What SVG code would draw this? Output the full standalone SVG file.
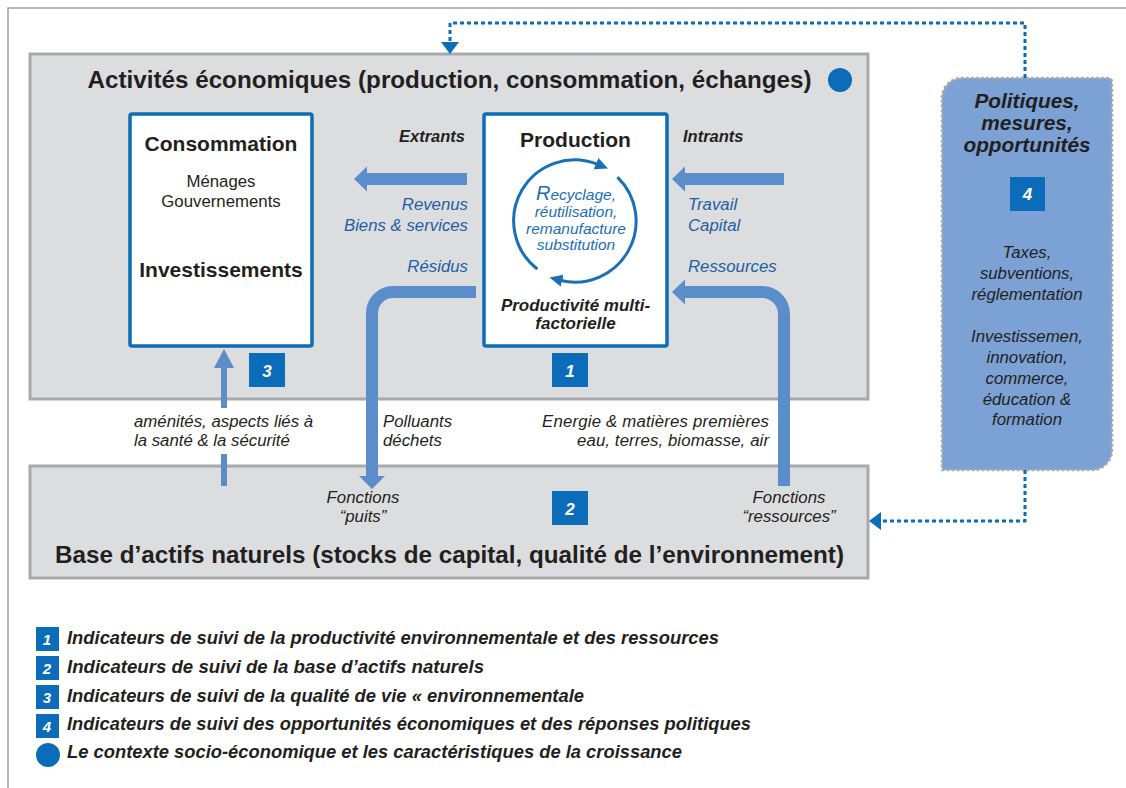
<svg xmlns="http://www.w3.org/2000/svg" width="1126" height="788" viewBox="0 0 1126 788">
<defs>
<style>
text{font-family:"Liberation Sans",Arial,Helvetica,sans-serif;fill:#231f20}
.b{font-weight:bold}
.i{font-style:italic}
.c{text-anchor:middle}
.e{text-anchor:end}
.lbl{font-size:16.8px;font-style:italic}
.bl{fill:#1f5fa3}
.cy{font-size:15.5px;font-style:italic;fill:#1a6fb8}
.num{font-size:17px;font-weight:bold;font-style:italic;fill:#fff;text-anchor:middle}
.lnum{font-size:15px;font-weight:bold;font-style:italic;fill:#fff;text-anchor:middle}
.leg{font-size:17.5px;font-weight:bold;font-style:italic}
.sq{fill:#0b6db9}
.zone{fill:#dcdddf;stroke:#a7a9ac;stroke-width:3}
.box{fill:#fff;stroke:#0b6db9;stroke-width:3.5}
.fat{fill:#5b8dca}
.fatline{fill:none;stroke:#5b8dca;stroke-width:12}
.dot{fill:none;stroke:#0b6db9;stroke-width:3;stroke-dasharray:4 3}
.cyc{fill:none;stroke:#1a6fb8;stroke-width:3}
</style>
<marker id="ah" markerUnits="userSpaceOnUse" markerWidth="14" markerHeight="14" viewBox="0 0 14 14" refX="2" refY="7" orient="auto"><path d="M0 1 L13 7 L0 13 Z" fill="#1a6fb8"/></marker>
</defs>
<rect width="1126" height="788" fill="#fff"/>
<path d="M8 788 V8 H1126" fill="none" stroke="#a0a0a0" stroke-width="1.5"/>

<g id="activites">
<rect class="zone" x="30" y="54" width="838" height="345"/>
<text class="b c" x="449.5" y="88" font-size="24" textLength="724" lengthAdjust="spacingAndGlyphs">Activités économiques (production, consommation, échanges)</text>
<circle cx="840" cy="80" r="12" fill="#0b6db9"/>
</g>

<g id="base">
<rect class="zone" x="30" y="466" width="838" height="112"/>
<text class="b c" x="449.5" y="563" font-size="24" textLength="789" lengthAdjust="spacingAndGlyphs">Base d’actifs naturels (stocks de capital, qualité de l’environnement)</text>
<text class="lbl c" x="363" y="503">Fonctions</text>
<text class="lbl c" x="363" y="522">“puits”</text>
<text class="lbl c" x="789" y="503">Fonctions</text>
<text class="lbl c" x="789" y="522">“ressources”</text>
</g>

<g id="consommation">
<rect class="box" x="130" y="114" width="182" height="232" rx="2"/>
<text class="b c" x="221" y="151" font-size="21">Consommation</text>
<text class="c" x="221" y="187" font-size="16.8">Ménages</text>
<text class="c" x="221" y="207" font-size="16.8">Gouvernements</text>
<text class="b c" x="221" y="277" font-size="21">Investissements</text>
</g>

<g id="production">
<rect class="box" x="484" y="114" width="183" height="232" rx="2"/>
<text class="b c" x="575.5" y="147" font-size="21">Production</text>
<path class="cyc" d="M537.4 269.1 A61 61 0 0 1 597.9 164.4" marker-end="url(#ah)"/>
<path class="cyc" d="M617.4 177.1 A61 61 0 0 1 560.2 280.2" marker-end="url(#ah)"/>
<text class="cy c" x="576" y="200"><tspan font-size="20">R</tspan>ecyclage,</text>
<text class="cy c" x="576" y="217">réutilisation,</text>
<text class="cy c" x="576" y="234">remanufacture</text>
<text class="cy c" x="576" y="250">substitution</text>
<text class="b i c" x="575.5" y="311" font-size="17">Productivité multi-</text>
<text class="b i c" x="575.5" y="329" font-size="17">factorielle</text>
</g>

<g id="politiques">
<path d="M942 98 A20 20 0 0 1 962 78 H1108 A4 4 0 0 1 1112 82 V450 A20 20 0 0 1 1092 470 H942 Z" fill="#7ba1d5" stroke="#a9aaad" stroke-width="2.5" stroke-dasharray="3 2"/>
<text class="b i c" x="1027" y="108" font-size="20.8">Politiques,</text>
<text class="b i c" x="1027" y="130" font-size="20.8">mesures,</text>
<text class="b i c" x="1027" y="152" font-size="20.8">opportunités</text>
<rect class="sq" x="1010" y="177" width="35" height="34"/>
<text class="num" x="1027.5" y="200">4</text>
<text class="lbl c" x="1027" y="258">Taxes,</text>
<text class="lbl c" x="1027" y="279">subventions,</text>
<text class="lbl c" x="1027" y="300">réglementation</text>
<text class="lbl c" x="1027" y="342">Investissemen,</text>
<text class="lbl c" x="1027" y="363">innovation,</text>
<text class="lbl c" x="1027" y="384">commerce,</text>
<text class="lbl c" x="1027" y="405">éducation &amp;</text>
<text class="lbl c" x="1027" y="425">formation</text>
</g>

<g id="indicateurs">
<rect class="sq" x="552" y="353" width="36" height="34"/>
<text class="num" x="570" y="377">1</text>
<rect class="sq" x="552" y="491" width="36" height="34"/>
<text class="num" x="570" y="515">2</text>
<rect class="sq" x="249" y="353" width="36" height="34"/>
<text class="num" x="267" y="377">3</text>
</g>

<g id="connectors">
<rect class="fat" x="366" y="173" width="101" height="12"/>
<polygon class="fat" points="367,166.5 367,191.5 354,179"/>
<rect class="fat" x="684" y="173" width="100" height="12"/>
<polygon class="fat" points="685,166.5 685,191.5 672,179"/>
<path class="fatline" d="M476 292 H393 A21 21 0 0 0 372 313 V477"/>
<polygon class="fat" points="359,476 385,476 372,489"/>
<path class="fatline" d="M784 486 V314 A22 22 0 0 0 762 292 H684"/>
<polygon class="fat" points="685,279.5 685,304.5 672,292"/>
<rect class="fat" x="221" y="366" width="6" height="42"/>
<rect class="fat" x="221" y="454" width="6" height="32"/>
<polygon class="fat" points="214,368 234,368 224,349"/>
<path class="dot" d="M1025 78 V23 H450 V43"/>
<polygon fill="#0b6db9" points="441,42 459,42 450,54"/>
<path class="dot" d="M1025 470 V521 H880"/>
<polygon fill="#0b6db9" points="881,512 881,530 869,521"/>
</g>

<g id="labels">
<text class="b i e" x="465" y="142" font-size="16.5">Extrants</text>
<text class="b i" x="683" y="142" font-size="16.5">Intrants</text>
<text class="lbl e bl" x="468" y="210">Revenus</text>
<text class="lbl e bl" x="468" y="231">Biens &amp; services</text>
<text class="lbl e bl" x="468" y="272">Résidus</text>
<text class="lbl bl" x="688" y="210">Travail</text>
<text class="lbl bl" x="688" y="231">Capital</text>
<text class="lbl bl" x="688" y="272">Ressources</text>
<text class="lbl" x="134" y="427">aménités, aspects liés à</text>
<text class="lbl" x="134" y="446">la santé &amp; la sécurité</text>
<text class="lbl" x="383" y="427">Polluants</text>
<text class="lbl" x="383" y="446">déchets</text>
<text class="lbl e" x="769" y="427" textLength="227">Energie &amp; matières premières</text>
<text class="lbl e" x="769" y="446" textLength="192">eau, terres, biomasse, air</text>
</g>

<g id="legende">
<rect class="sq" x="36" y="627" width="23" height="24"/>
<text class="lnum" x="47" y="645">1</text>
<text class="leg" x="67" y="644" textLength="652" lengthAdjust="spacingAndGlyphs">Indicateurs de suivi de la productivité environnementale et des ressources</text>
<rect class="sq" x="36" y="656" width="23" height="24"/>
<text class="lnum" x="47" y="674">2</text>
<text class="leg" x="67" y="673" textLength="417" lengthAdjust="spacingAndGlyphs">Indicateurs de suivi de la  base d’actifs naturels</text>
<rect class="sq" x="36" y="685" width="23" height="24"/>
<text class="lnum" x="47" y="703">3</text>
<text class="leg" x="67" y="702" textLength="517" lengthAdjust="spacingAndGlyphs">Indicateurs de suivi de la qualité de vie « environnementale</text>
<rect class="sq" x="36" y="714" width="23" height="24"/>
<text class="lnum" x="47" y="732">4</text>
<text class="leg" x="67" y="730" textLength="684" lengthAdjust="spacingAndGlyphs">Indicateurs de suivi des opportunités économiques et des réponses politiques</text>
<circle cx="48" cy="755" r="12" fill="#0b6db9"/>
<text class="leg" x="67" y="758" textLength="615" lengthAdjust="spacingAndGlyphs">Le contexte socio-économique et les caractéristiques de la croissance</text>
</g>
</svg>
